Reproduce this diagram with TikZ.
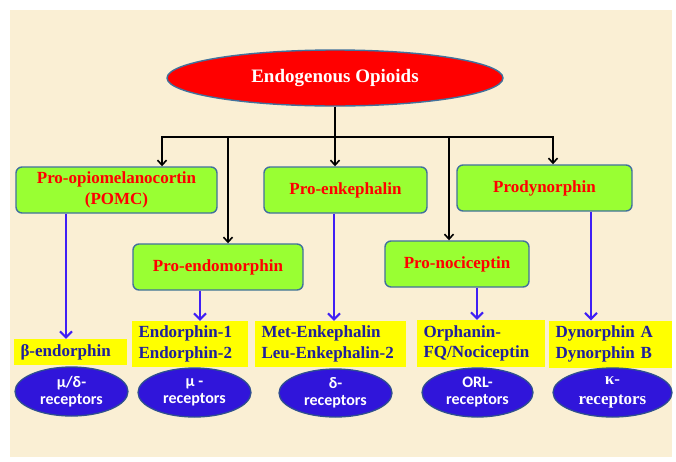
\documentclass[tikz,border=0pt]{standalone}
\usepackage{fontspec}
\setmainfont{Liberation Serif}
\newfontfamily\calib{Carlito}
\usetikzlibrary{shapes.geometric,arrows.meta}
\definecolor{beige}{HTML}{FAEFD4}
\definecolor{gborder}{HTML}{41719C}
\definecolor{greenfill}{HTML}{99FF33}
\definecolor{redtext}{HTML}{FF0000}
\definecolor{yfill}{HTML}{FFFF00}
\definecolor{ytext}{HTML}{1F1F9C}
\definecolor{efill}{HTML}{3015DA}
\definecolor{eborder}{HTML}{2F4F8F}
\definecolor{barrow}{HTML}{3F1FF5}
\begin{document}
\begin{tikzpicture}[x=1pt,y=-1pt,
  titleell/.style={ellipse, draw=gborder, line width=1.4pt, fill=red, text=white,
    font=\bfseries\fontsize{19}{22}\selectfont, inner sep=0pt},
  greenbox/.style={draw=gborder, line width=1.4pt, fill=greenfill, rounded corners=6pt,
    text=redtext, font=\bfseries\fontsize{17}{20.5}\selectfont, align=center, inner sep=0pt},
  yellowbox/.style={fill=yfill, text=ytext, font=\bfseries\fontsize{17}{20.5}\selectfont,
    align=left, inner xsep=6.5pt, inner ysep=0pt},
  blueell/.style={ellipse, draw=eborder, line width=1.3pt, fill=efill, text=white,
    font=\calib\bfseries\fontsize{16}{17}\selectfont, align=center, inner sep=0pt},
  blackline/.style={draw=black, line width=1.6pt},
  blackarrow/.style={draw=black, line width=1.6pt, -{Straight Barb[length=5pt,width=9pt]}},
  bluearrow/.style={draw=barrow, line width=2pt, -{Straight Barb[length=6pt,width=12pt]}}
]
\useasboundingbox (0,0) rectangle (676,461);
\fill[white] (0,0) rectangle (676,461);
\fill[beige] (10,10) rectangle (672,457);

\node[titleell, minimum width=336pt, minimum height=56pt] (title) at (335,78) {Endogenous Opioids};

\node[greenbox, minimum width=201pt, minimum height=46pt] (pomc) at (116.5,190) {Pro-opiomelanocortin\\(POMC)};
\node[greenbox, minimum width=170pt, minimum height=46pt] (endo) at (218,267) {Pro-endomorphin};
\node[greenbox, minimum width=163pt, minimum height=46pt] (enk) at (345.5,190) {Pro-enkephalin};
\node[greenbox, minimum width=144pt, minimum height=46pt] (noci) at (457,264) {Pro-nociceptin};
\node[greenbox, minimum width=175pt, minimum height=46pt] (dyn) at (544.5,188) {Prodynorphin};

\node[yellowbox, text width=100pt, minimum height=26pt] (beta) at (70.5,352) {β-endorphin};
\node[yellowbox, text width=103pt, minimum height=46pt] (endy) at (190,344) {Endorphin-1\\Endorphin-2};
\node[yellowbox, text width=138pt, minimum height=46pt] (mety) at (330.5,344) {Met-Enkephalin\\Leu-Enkephalin-2};
\node[yellowbox, text width=115pt, minimum height=47pt] (orph) at (481,343.5) {Orphanin-\\FQ/Nociceptin};
\node[yellowbox, text width=110pt, minimum height=47pt] (dyny) at (610.5,344) {Dynorphin A\\Dynorphin B};

\node[blueell, minimum width=113pt, minimum height=49pt] (e1) at (71.5,391.5) {μ/δ-\\receptors};
\node[blueell, minimum width=113pt, minimum height=49pt] (e2) at (194.5,392.5) {μ -\\receptors};
\node[blueell, minimum width=113pt, minimum height=48pt] (e3) at (335.5,393) {δ-\\receptors};
\node[blueell, minimum width=111pt, minimum height=49pt] (e4) at (477.5,392.5) {ORL-\\receptors};
\node[blueell, minimum width=119pt, minimum height=49pt,
  font=\bfseries\fontsize{17}{20}\selectfont] (e5) at (612.5,392.5) {κ-\\receptors};

% tree
\coordinate (b1) at (162,137);
\coordinate (b2) at (228,137);
\coordinate (b3) at (335,137);
\coordinate (b4) at (449,137);
\coordinate (b5) at (553,137);
\draw[blackline] (title.south) -- (b3);
\draw[blackline, line cap=rect] (b1) -- (b5);
\draw[blackarrow] (b1) -- (b1 |- pomc.north);
\draw[blackarrow] (b2) -- (b2 |- endo.north);
\draw[blackarrow] (b3) -- (b3 |- enk.north);
\draw[blackarrow] (b4) -- (b4 |- noci.north);
\draw[blackarrow] (b5) -- (b5 |- dyn.north);

% blue arrows
\coordinate (c1) at (66,0);
\coordinate (c2) at (200,0);
\coordinate (c3) at (334,0);
\coordinate (c4) at (477,0);
\coordinate (c5) at (591,0);
\draw[bluearrow] (c1 |- pomc.south) -- (c1 |- beta.north);
\draw[bluearrow] (c2 |- endo.south) -- (c2 |- endy.north);
\draw[bluearrow] (c3 |- enk.south) -- (c3 |- mety.north);
\draw[bluearrow] (c4 |- noci.south) -- (c4 |- orph.north);
\draw[bluearrow] (c5 |- dyn.south) -- (c5 |- dyny.north);
\end{tikzpicture}
\end{document}
